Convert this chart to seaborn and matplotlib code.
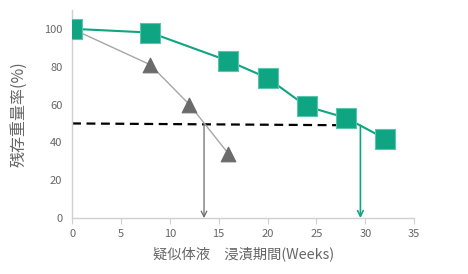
import matplotlib
matplotlib.use("Agg")
import matplotlib.pyplot as plt
import seaborn as sns
import pandas as pd

green_weeks = [0, 8, 16, 20, 24, 28, 32]
green_vals = [100, 98, 83, 74, 59, 53, 42]
gray_weeks = [0, 8, 12, 16]
gray_vals = [100, 81, 60, 34]
half_line_x = [0, 29.5]
half_line_y = [50, 49]
gray_half_week = 13.5
green_half_week = 29.5

sns.set_style("white")
plt.rcParams['font.family'] = ['Noto Sans CJK JP', 'DejaVu Sans']

fig = plt.figure(figsize=(4.68, 2.74), dpi=100)
ax = fig.add_axes([0.154, 0.204, 0.731, 0.76])

GREEN = "#0fa583"
GRAY = "#a6a6a6"
DARK = "#6b6b6b"

dg = pd.DataFrame({"w": green_weeks, "v": green_vals})
dt = pd.DataFrame({"w": gray_weeks, "v": gray_vals})

sns.lineplot(data=dt, x="w", y="v", ax=ax, color=GRAY, lw=1.0, zorder=2)
sns.scatterplot(data=dt, x="w", y="v", ax=ax, marker="^", s=110, color=DARK,
                edgecolor=DARK, zorder=3)
sns.lineplot(data=dg, x="w", y="v", ax=ax, color=GREEN, lw=1.5, zorder=4)
sns.scatterplot(data=dg, x="w", y="v", ax=ax, marker="s", s=190, color=GREEN,
                edgecolor="#5cc4a8", linewidth=0.8, zorder=5)

ax.plot(half_line_x, half_line_y, ls=(0, (4, 2.5)), color="black", lw=1.6, zorder=1)

ax.annotate("", xy=(gray_half_week, 0), xytext=(gray_half_week, 50),
            arrowprops=dict(arrowstyle="->", color=DARK, lw=0.9, shrinkA=0, shrinkB=0), zorder=1)
ax.annotate("", xy=(green_half_week, 0), xytext=(green_half_week, 49),
            arrowprops=dict(arrowstyle="->", color=GREEN, lw=1.2, shrinkA=0, shrinkB=0), zorder=1)

ax.set_xlim(0, 35)
ax.set_ylim(0, 110)
ax.set_xticks([0, 5, 10, 15, 20, 25, 30, 35])
ax.set_yticks([0, 20, 40, 60, 80, 100])

for s in ["top", "right"]:
    ax.spines[s].set_visible(False)
for s in ["left", "bottom"]:
    ax.spines[s].set_color("#d0d0d0")
    ax.spines[s].set_linewidth(1.0)

ax.tick_params(axis="both", colors="#666666", labelsize=8, length=4, width=0.8,
               direction="out", pad=4)
ax.tick_params(axis="both", color="#d0d0d0")
ax.tick_params(axis="x", bottom=True)
ax.tick_params(axis="y", left=False, pad=3)

ax.set_xlabel("疑似体液　浸漬期間(Weeks)", fontsize=10.3, color="#666666", labelpad=5)
ax.set_ylabel("残存重量率(%)", fontsize=11.5, color="#666666", labelpad=12)

fig.savefig("out.png", dpi=100)
